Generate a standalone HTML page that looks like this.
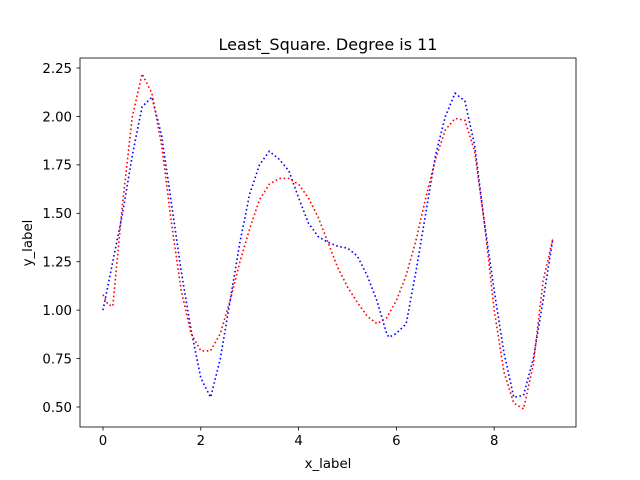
<!DOCTYPE html>
<html><head><meta charset="utf-8"><style>
body{margin:0;background:#fff}
svg{display:block;font-family:"DejaVu Sans","Liberation Sans",sans-serif}
</style></head><body>
<svg id="chart" width="640" height="480">
<rect x="0" y="0" width="640" height="480" fill="#fff"/>
<text x="328" y="50" font-size="16" text-anchor="middle">Least_Square. Degree is 11</text>
<text x="328" y="468" font-size="13.3" text-anchor="middle">x_label</text>
<text x="32" y="243" font-size="13.3" text-anchor="middle" transform="rotate(-90 32 243)">y_label</text>
<g id="ticks"></g>
<g id="series"></g>
<rect x="80" y="58" width="496" height="369" fill="none" stroke="#000" stroke-width="0.8"/>
</svg>
<script>
const xTicks=[0,2,4,6,8];
const yTicks=[0.5,0.75,1.0,1.25,1.5,1.75,2.0,2.25];
const xsBlue=[0,0.2,0.4,0.6,0.8,1.0,1.2,1.4,1.6,1.8,2.0,2.2,2.4,2.6,2.8,3.0,3.2,3.4,3.6,3.8,4.0,4.2,4.4,4.6,4.8,5.0,5.2,5.4,5.6,5.8,5.85,6.0,6.2,6.4,6.6,6.8,7.0,7.2,7.4,7.6,7.8,8.0,8.2,8.4,8.6,8.8,9.0,9.2];
const blueValues=[1.0,1.25,1.5,1.8,2.05,2.1,1.9,1.55,1.2,0.9,0.65,0.55,0.75,1.05,1.35,1.6,1.75,1.82,1.78,1.72,1.58,1.45,1.38,1.35,1.33,1.32,1.28,1.18,1.05,0.88,0.86,0.88,0.93,1.2,1.5,1.8,2.0,2.12,2.08,1.85,1.45,1.1,0.78,0.55,0.56,0.75,1.05,1.37];
const xsRed=[0,0.1,0.2,0.4,0.6,0.8,1.0,1.2,1.4,1.6,1.8,2.0,2.2,2.4,2.6,2.8,3.0,3.2,3.4,3.6,3.8,4.0,4.2,4.4,4.6,4.8,5.0,5.2,5.4,5.6,5.8,6.0,6.2,6.4,6.6,6.8,7.0,7.2,7.4,7.6,7.8,8.0,8.2,8.4,8.6,8.8,9.0,9.2];
const redValues=[1.08,1.03,1.02,1.55,2.0,2.22,2.12,1.85,1.45,1.1,0.88,0.79,0.79,0.88,1.05,1.25,1.42,1.57,1.65,1.68,1.68,1.65,1.58,1.48,1.35,1.22,1.12,1.04,0.97,0.93,0.96,1.05,1.18,1.36,1.58,1.78,1.93,1.99,1.98,1.82,1.45,1.0,0.68,0.52,0.49,0.72,1.15,1.37];
const NS="http://www.w3.org/2000/svg";
const sx=v=>103+v*48.9;
const sy=v=>407-(v-0.5)*193.7;
const tg=document.getElementById('ticks');
xTicks.forEach(t=>{
  const l=document.createElementNS(NS,'line');
  l.setAttribute('x1',sx(t));l.setAttribute('x2',sx(t));l.setAttribute('y1',427);l.setAttribute('y2',430.5);l.setAttribute('stroke','#000');l.setAttribute('stroke-width','0.8');
  
  
  tg.appendChild(l);
  const s=document.createElementNS(NS,'text');
  s.setAttribute('x',sx(t));s.setAttribute('y',445);s.setAttribute('font-size','13.3');s.setAttribute('text-anchor','middle');s.textContent=t;
  
  
  tg.appendChild(s);
});
yTicks.forEach(t=>{
  const l=document.createElementNS(NS,'line');
  l.setAttribute('x1',76.5);l.setAttribute('x2',80);l.setAttribute('y1',sy(t));l.setAttribute('y2',sy(t));l.setAttribute('stroke','#000');l.setAttribute('stroke-width','0.8');
  
  
  tg.appendChild(l);
  const s=document.createElementNS(NS,'text');
  s.setAttribute('x',72);s.setAttribute('y',sy(t)+4.8);s.setAttribute('font-size','13.3');s.setAttribute('text-anchor','end');s.textContent=t.toFixed(2);
  
  
  tg.appendChild(s);
});
const sg=document.getElementById('series');
function line(xs,ys,color,name){
  const p=document.createElementNS(NS,'polyline');
  p.setAttribute('points',xs.map((x,i)=>sx(x)+','+sy(ys[i])).join(' '));
  p.setAttribute('fill','none');p.setAttribute('stroke',color);p.setAttribute('stroke-width','1.6');p.setAttribute('stroke-dasharray','1.6,2.6');
  
  
  sg.appendChild(p);
}
line(xsBlue,blueValues,'#0000ff','blue-data-line');
line(xsRed,redValues,'#ff0000','red-fit-line');
</script>
</body></html>
